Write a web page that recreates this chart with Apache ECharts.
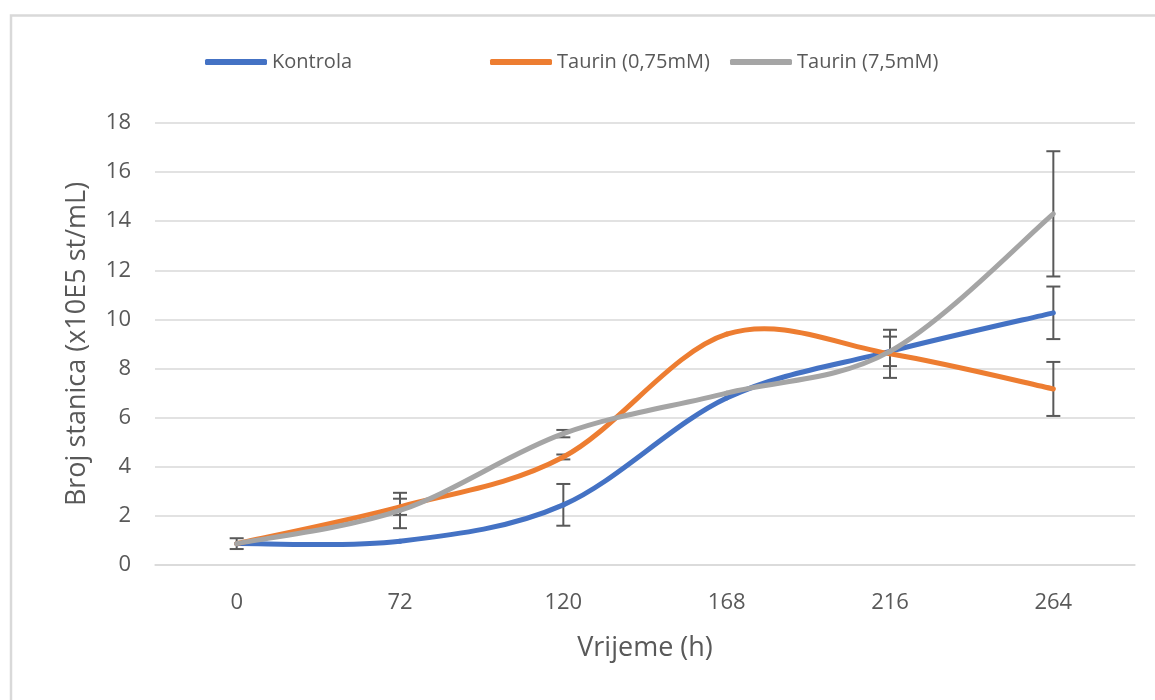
<!DOCTYPE html>
<html>
<head>
<meta charset="utf-8">
<script src="https://cdn.jsdelivr.net/npm/echarts@6/dist/echarts.min.js"></script>
<style>
html,body{margin:0;padding:0;background:#fff;}
#main{width:1155px;height:700px;}
</style>
</head>
<body>
<div id="main"></div>
<script>
const categories = ['0', '72', '120', '168', '216', '264'];
const seriesNames = ['Kontrola', 'Taurin (0,75mM)', 'Taurin (7,5mM)'];
const kontrola = [0.87, 0.97, 2.45, 6.8, 8.7, 10.27];
const taurin075 = [0.87, 2.37, 4.4, 9.4, 8.6, 7.17];
const taurin75 = [0.87, 2.22, 5.35, 7.0, 8.7, 14.3];
// error (± half-range); null = no visible bar
const errKontrola = [0.22, null, 0.85, null, 0.6, 1.07];
const errTaurin075 = [null, 0.33, 0.1, null, 0.98, 1.1];
const errTaurin75 = [null, 0.72, 0.15, null, null, 2.55];
const yTicks = { min: 0, max: 18, interval: 2 };

const colors = ['#4472C4', '#ED7D31', '#A5A5A5'];
const FONT = '"Open Sans", sans-serif';

function errData(vals, errs) {
  const out = [];
  vals.forEach((v, i) => {
    if (errs[i] != null) out.push([i, v - errs[i], v + errs[i]]);
  });
  return out;
}

function renderErr(params, api) {
  const x = api.value(0);
  const lo = api.coord([x, api.value(1)]);
  const hi = api.coord([x, api.value(2)]);
  const hw = 7;
  const style = { stroke: '#595959', lineWidth: 2 };
  return {
    type: 'group',
    children: [
      { type: 'line', shape: { x1: lo[0], y1: lo[1], x2: hi[0], y2: hi[1] }, style },
      { type: 'line', shape: { x1: lo[0] - hw, y1: lo[1], x2: lo[0] + hw, y2: lo[1] }, style },
      { type: 'line', shape: { x1: hi[0] - hw, y1: hi[1], x2: hi[0] + hw, y2: hi[1] }, style }
    ]
  };
}

// Excel-like smoothed line (Catmull-Rom style bezier through the data points)
function makeSpline(vals, color) {
  const n = vals.length;
  return function (params, api) {
    const i = params.dataIndex;
    if (i >= n - 1) return { type: 'group', children: [] };
    const pt = j => api.coord([Math.max(0, Math.min(n - 1, j)), vals[Math.max(0, Math.min(n - 1, j))]]);
    const pPrev = pt(i - 1), p0 = pt(i), p1 = pt(i + 1), pNext = pt(i + 2);
    const k = 1 / 6;
    return {
      type: 'bezierCurve',
      shape: {
        x1: p0[0], y1: p0[1], x2: p1[0], y2: p1[1],
        cpx1: p0[0] + (p1[0] - pPrev[0]) * k, cpy1: p0[1] + (p1[1] - pPrev[1]) * k,
        cpx2: p1[0] - (pNext[0] - p0[0]) * k, cpy2: p1[1] - (pNext[1] - p0[1]) * k
      },
      style: { stroke: color, lineWidth: 5, fill: null, lineCap: 'round' }
    };
  };
}

const chart = echarts.init(document.getElementById('main'), null, { renderer: 'canvas' });
const lineVals = [kontrola, taurin075, taurin75];
const errVals = [errKontrola, errTaurin075, errTaurin75];

const series = [];
lineVals.forEach((vals, k) => {
  series.push({
    name: seriesNames[k] + '_err',
    type: 'custom',
    renderItem: renderErr,
    data: errData(vals, errVals[k]),
    z: 1,
    silent: true
  });
});
lineVals.forEach((vals, k) => {
  series.push({
    name: seriesNames[k],
    type: 'custom',
    renderItem: makeSpline(vals, colors[k]),
    data: vals.map((v, i) => [i, v]),
    encode: { x: 0, y: 1 },
    itemStyle: { color: colors[k] },
    z: 3 + k,
    silent: true
  });
});

const legendLefts = [200, 485, 725];
const legends = seriesNames.map((n, k) => ({
  data: [{ name: n, icon: 'roundRect', itemStyle: { color: colors[k] } }],
  left: legendLefts[k],
  top: 47,
  itemWidth: 62,
  itemHeight: 6,
  selectedMode: false,
  textStyle: { color: '#595959', fontSize: 20, fontFamily: FONT }
}));

chart.setOption({
  animation: false,
  backgroundColor: '#fff',
  graphic: [{
    type: 'rect',
    shape: { x: 11, y: 15.5, width: 1200, height: 800 },
    style: { fill: 'none', stroke: '#d9d9d9', lineWidth: 2.5 },
    silent: true
  }],
  legend: legends,
  grid: { left: 155, right: 20, top: 123, bottom: 135, containLabel: false },
  xAxis: {
    type: 'category',
    data: categories,
    boundaryGap: true,
    axisLine: { show: true, lineStyle: { color: '#d9d9d9', width: 1.5 } },
    axisTick: { show: false },
    axisLabel: { color: '#595959', fontSize: 22, fontFamily: FONT, margin: 27 },
    name: 'Vrijeme (h)',
    nameLocation: 'middle',
    nameGap: 70,
    nameTextStyle: { color: '#595959', fontSize: 27, fontFamily: FONT }
  },
  yAxis: {
    type: 'value',
    min: yTicks.min,
    max: yTicks.max,
    interval: yTicks.interval,
    axisLine: { show: false },
    axisTick: { show: false },
    axisLabel: { color: '#595959', fontSize: 22, fontFamily: FONT, margin: 24 },
    splitLine: { lineStyle: { color: '#d9d9d9', width: 1.5 } },
    name: 'Broj stanica (x10E5 st/mL)',
    nameLocation: 'middle',
    nameGap: 64,
    nameRotate: 90,
    nameTextStyle: { color: '#595959', fontSize: 27, fontFamily: FONT }
  },
  series: series
});
</script>
</body>
</html>
